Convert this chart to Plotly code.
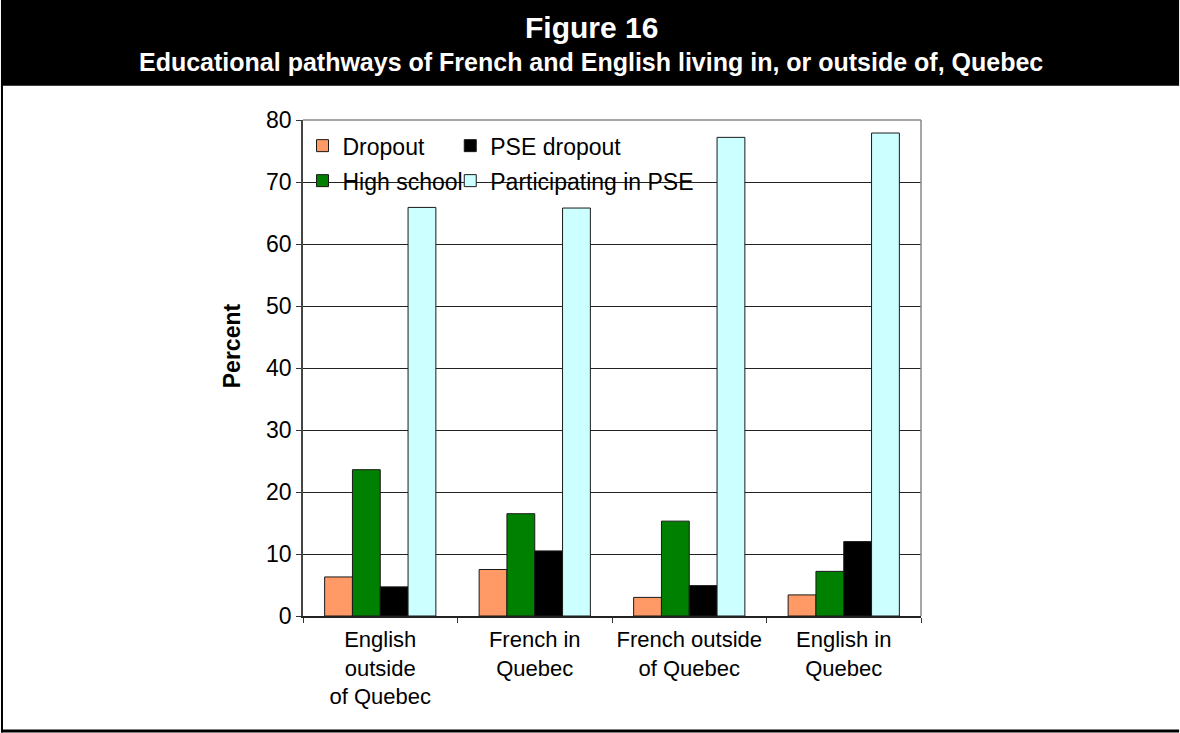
import plotly.graph_objects as go

W, H = 1180, 733
# plot area in pixels
PL, PR, PT, PB = 302.5, 921.5, 120.3, 616.5

categories = ["English<br>outside<br>of Quebec", "French in<br>Quebec",
              "French outside<br>of Quebec", "English in<br>Quebec"]
dropout = [6.3, 7.5, 3.0, 3.4]
high_school = [23.6, 16.5, 15.3, 7.2]
pse_dropout = [4.7, 10.5, 4.9, 12.0]
participating = [65.9, 65.8, 77.2, 77.9]
y_ticks = [0, 10, 20, 30, 40, 50, 60, 70, 80]

FONT = "Arial, Liberation Sans, sans-serif"


def px(x):
    return (x - PL) / (PR - PL)


def py(y):
    return (PB - y) / (PB - PT)


series = [
    ("Dropout", dropout, "#FF9966", "legend"),
    ("High school", high_school, "#008000", "legend3"),
    ("PSE dropout", pse_dropout, "#000000", "legend2"),
    ("Participating in PSE", participating, "#CCFFFF", "legend4"),
]

fig = go.Figure()
for name, vals, col, lg in series:
    fig.add_trace(go.Bar(
        x=categories, y=vals, name=name, legend=lg,
        marker=dict(color=col, line=dict(color="#1a1a1a", width=1)),
    ))

leg_common = dict(bgcolor="rgba(0,0,0,0)", font=dict(family=FONT, size=23, color="black"),
                  xanchor="left", yanchor="middle", itemwidth=30,
                  tracegroupgap=0)
fig.update_layout(
    legend=dict(x=px(302), y=py(146), **leg_common),
    legend2=dict(x=px(450), y=py(146), **leg_common),
    legend3=dict(x=px(302), y=py(181), **leg_common),
    legend4=dict(x=px(450), y=py(181), **leg_common),
)

fig.update_layout(
    width=W, height=H,
    margin=dict(l=PL, r=W - PR, t=PT, b=H - PB, pad=0, autoexpand=False),
    paper_bgcolor="white", plot_bgcolor="white",
    barmode="group", bargap=0.28, bargroupgap=0,
    font=dict(family=FONT, size=23, color="black"),
    showlegend=True,
    xaxis=dict(
        type="category", tickson="boundaries", ticks="outside", ticklen=5,
        tickcolor="#333", showline=True, linecolor="#222", linewidth=1.5,
        mirror=False, tickfont=dict(size=22, family=FONT, color="black"),
        tickangle=0, automargin=False, ticklabelstandoff=3,
    ),
    yaxis=dict(
        range=[0, 80], tickvals=y_ticks, ticks="outside", ticklen=5,
        tickcolor="#333", showline=True, linecolor="#444", linewidth=1.5,
        showgrid=True, gridcolor="#222", gridwidth=1,
        tickfont=dict(size=23, family=FONT, color="black"),
        zeroline=False, automargin=False,
    ),
    shapes=[
        # header band
        dict(type="rect", xref="paper", yref="paper", x0=px(0), x1=px(W),
             y0=py(86), y1=py(0), fillcolor="black", line=dict(width=0), layer="above"),
        # left border
        dict(type="rect", xref="paper", yref="paper", x0=px(0), x1=px(2),
             y0=py(H), y1=py(0), fillcolor="black", line=dict(width=0), layer="above"),
        # bottom border
        dict(type="rect", xref="paper", yref="paper", x0=px(0), x1=px(W),
             y0=py(H), y1=py(730), fillcolor="black", line=dict(width=0), layer="above"),
        # plot top & right border (gray)
        dict(type="line", xref="paper", yref="paper", x0=0, x1=1, y0=1, y1=1,
             line=dict(color="#888", width=1.5), layer="above"),
        dict(type="line", xref="paper", yref="paper", x0=1, x1=1, y0=0, y1=1,
             line=dict(color="#888", width=1.5), layer="above"),
    ],
    annotations=[
        dict(text="<b>Figure 16</b>", xref="paper", yref="paper", x=px(591), y=py(28),
             showarrow=False, font=dict(family=FONT, size=30, color="white"),
             xanchor="center", yanchor="middle"),
        dict(text="<b>Educational pathways of French and English living in, or outside of, Quebec</b>",
             xref="paper", yref="paper", x=px(591), y=py(62), showarrow=False,
             font=dict(family=FONT, size=25, color="white"),
             xanchor="center", yanchor="middle"),
        dict(text="<b>Percent</b>", xref="paper", yref="paper", x=px(231), y=py(346),
             showarrow=False, textangle=-90, font=dict(family=FONT, size=23, color="black"),
             xanchor="center", yanchor="middle"),
    ],
)

fig.write_html("out.html")
